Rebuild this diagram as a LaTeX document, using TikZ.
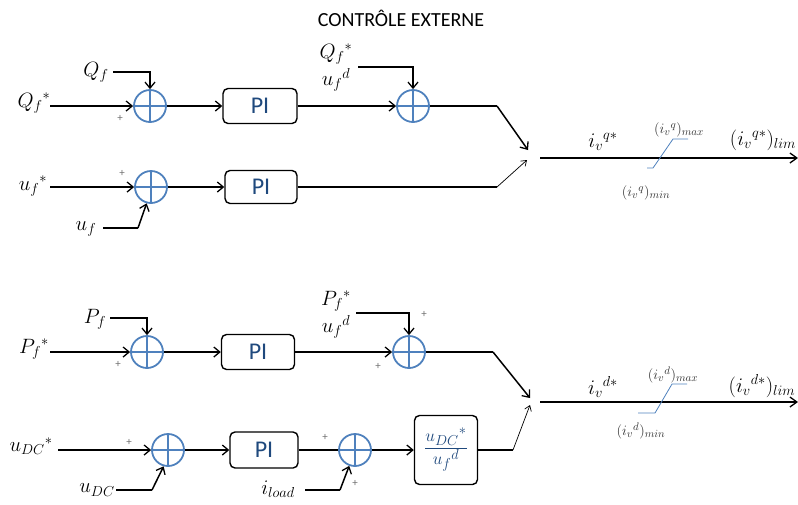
\documentclass[tikz,border=0pt]{standalone}
\usepackage{fontspec}
\setmainfont{Carlito}
\usetikzlibrary{arrows.meta}
\definecolor{sumblue}{RGB}{79,129,189}
\definecolor{txtblue}{RGB}{31,73,125}
\definecolor{signgray}{RGB}{110,110,110}
\tikzset{
  sumnode/.style={circle,draw=sumblue,line width=1.8pt,minimum size=32pt,inner sep=0pt,
    path picture={\draw[sumblue,line width=1.6pt]
      (path picture bounding box.north) -- (path picture bounding box.south)
      (path picture bounding box.west) -- (path picture bounding box.east);}},
  piblock/.style={draw=black,line width=1.4pt,rounded corners=5pt,inner sep=0pt,
    text=txtblue,font=\fontsize{24}{26}\selectfont},
  lab/.style={inner sep=0pt,font=\fontsize{20}{22}\selectfont},
  smalllab/.style={inner sep=0pt,font=\fontsize{15}{16}\selectfont,text=black!80},
  limlab/.style={inner sep=0pt,font=\fontsize{22}{24}\selectfont},
  sgn/.style={inner sep=0pt,font=\fontsize{11}{12}\selectfont,text=signgray},
  wire/.style={line width=1.5pt,black},
  arr/.style={wire,-{Straight Barb[length=6pt,width=10pt,line width=1.3pt]}},
  thinarr/.style={line width=0.7pt,black,-{Straight Barb[length=5pt,width=7pt]}},
  outline/.style={line width=2pt,black,-{Straight Barb[length=7pt,width=10pt,line width=1.3pt]}},
  limiter/.style={line width=0.8pt,sumblue}
}
\begin{document}
\begin{tikzpicture}[x=1pt,y=-1pt]
\useasboundingbox (0,0) rectangle (798,504);
\node[font=\fontsize{20}{22}\selectfont] (title) at (401,18) {CONTRÔLE EXTERNE};

% ---------- upper block ----------
\node[sumnode] (s1) at (150,106) {};
\node[piblock,minimum width=74pt,minimum height=35pt] (pi1) at (260,106) {PI};
\node[sumnode] (s2) at (413,106) {};
\node[sumnode] (s3) at (151,187) {};
\node[piblock,minimum width=72pt,minimum height=33pt] (pi2) at (261,187) {PI};

\node[lab] (lQfs) at (34,103) {${Q_f}^{*}$};
\node[lab] (lQf) at (96,72) {$Q_f$};
\node[lab] (lQfs2) at (336,54) {${Q_f}^{*}$};
\node[lab] (lufd1) at (336,80) {${u_f}^{d}$};
\node[lab] (lufs) at (33,186) {${u_f}^{*}$};
\node[lab] (luf) at (86,229) {$u_f$};

\coordinate (a1) at (50,106);
\coordinate (f1) at (113,72);
\coordinate (c2) at (358,67);
\coordinate (k1) at (497,106);
\coordinate (j1) at (528,150);
\coordinate (a3) at (50,187);
\coordinate (f3a) at (103,228);
\coordinate (f3b) at (138,228);
\coordinate (k2) at (497,187);
\coordinate (j2) at (527,160);

\draw[arr] (a1) -- (s1.west);
\draw[arr] (f1) -| (s1.north);
\draw[arr] (s1.east) -- (pi1.west);
\draw[arr] (pi1.east) -- (s2.west);
\draw[arr] (c2) -| (s2.north);
\draw[wire] (s2.east) -- (k1);
\draw[arr] (k1) -- (j1);

\draw[arr] (a3) -- (s3.west);
\draw[wire] (f3a) -- (f3b);
\draw[arr] (f3b) -- (s3.255);
\draw[arr] (s3.east) -- (pi2.west);
\draw[wire] (pi2.east) -- (k2);
\draw[thinarr] (k2) -- (j2);

\node[sgn] (p1) at (120,118) {+};
\node[sgn] (p3) at (122,173) {+};

% output q
\coordinate (o1s) at (540,158);
\coordinate (o1e) at (798,158);
\draw[outline] (o1s) -- (o1e);
\draw[limiter] (647,168) -- (653,168) -- (673,139) -- (688,139);
\node[lab] (liq) at (603,142) {${i_v}^{q*}$};
\node[smalllab] (lmaxq) at (679,130) {$({i_v}^{q})_{max}$};
\node[smalllab] (lminq) at (646,193) {$({i_v}^{q})_{min}$};
\node[limlab] (llimq) at (763,140) {$({i_v}^{q*})_{lim}$};

% ---------- lower block ----------
\node[sumnode] (s4) at (147,352) {};
\node[piblock,minimum width=73pt,minimum height=35pt] (pi3) at (258,352) {PI};
\node[sumnode] (s5) at (409,352) {};
\node[sumnode] (s6) at (168,450) {};
\node[piblock,minimum width=68pt,minimum height=36pt] (pi4) at (264,450) {PI};
\node[sumnode] (s7) at (355,450) {};
\node[piblock,minimum width=63pt,minimum height=69pt,text=txtblue,font=\fontsize{19}{21}\selectfont] (div) at (446,450)
  {$\displaystyle\frac{{u_{DC}}^{*}}{{u_f}^{d}}$};

\node[lab] (lPfs) at (34,349) {${P_f}^{*}$};
\node[lab] (lPf) at (95,319) {$P_f$};
\node[lab] (lPfs2) at (336,301) {${P_f}^{*}$};
\node[lab] (lufd2) at (336,327) {${u_f}^{d}$};
\node[lab] (luDCs) at (31,446) {${u_{DC}}^{*}$};
\node[lab] (luDC) at (97,490) {$u_{DC}$};
\node[lab] (lil) at (278,489) {$i_{load}$};

\coordinate (a4) at (50,352);
\coordinate (f4) at (110,318);
\coordinate (c5) at (356,313);
\coordinate (k3) at (493,352);
\coordinate (j3) at (530,398);
\coordinate (a6) at (58,450);
\coordinate (f6a) at (116,490);
\coordinate (f6b) at (152,490);
\coordinate (f7a) at (305,490);
\coordinate (f7b) at (340,490);
\coordinate (k4) at (513,450);
\coordinate (j4) at (530,405);

\draw[arr] (a4) -- (s4.west);
\draw[arr] (f4) -| (s4.north);
\draw[arr] (s4.east) -- (pi3.west);
\draw[arr] (pi3.east) -- (s5.west);
\draw[arr] (c5) -| (s5.north);
\draw[wire] (s5.east) -- (k3);
\draw[arr] (k3) -- (j3);

\draw[arr] (a6) -- (s6.west);
\draw[wire] (f6a) -- (f6b);
\draw[arr] (f6b) -- (s6.255);
\draw[arr] (s6.east) -- (pi4.west);
\draw[wire] (pi4.east) -- (s7.west);
\draw[wire] (f7a) -- (f7b);
\draw[arr] (f7b) -- (s7.250);
\draw[arr] (s7.east) -- (div.west);
\draw[wire] (div.east) -- (k4);
\draw[thinarr] (k4) -- (j4);

\node[sgn] (p4) at (118,364) {+};
\node[sgn] (p5a) at (424,314) {+};
\node[sgn] (p5b) at (378,366) {+};
\node[sgn] (p6) at (129,442) {+};
\node[sgn] (p7a) at (325,437) {+};
\node[sgn] (p7b) at (355,483) {+};

% output d
\coordinate (o2s) at (540,402);
\coordinate (o2e) at (798,402);
\draw[outline] (o2s) -- (o2e);
\draw[limiter] (638,413) -- (655,413) -- (672,384) -- (687,384);
\node[lab] (lid) at (603,387) {${i_v}^{d*}$};
\node[smalllab] (lmaxd) at (673,375) {$({i_v}^{d})_{max}$};
\node[smalllab] (lmind) at (641,431) {$({i_v}^{d})_{min}$};
\node[limlab] (llimd) at (762,386) {$({i_v}^{d*})_{lim}$};
\end{tikzpicture}
\end{document}
